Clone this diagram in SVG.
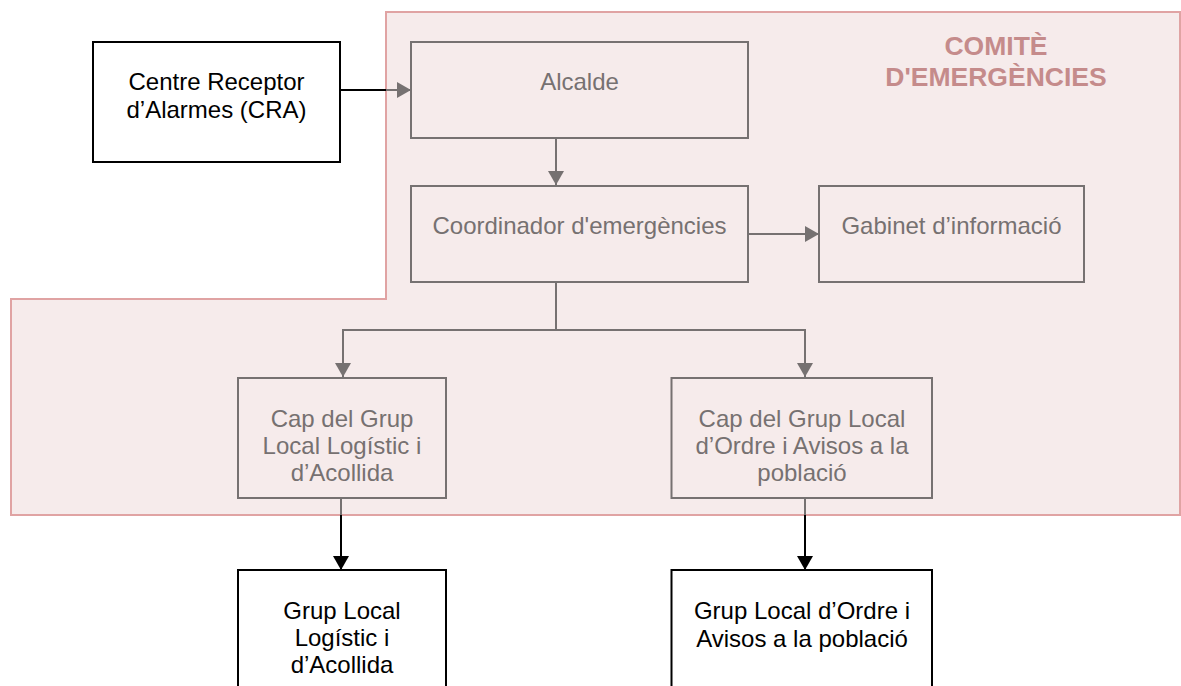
<svg xmlns="http://www.w3.org/2000/svg" width="1181" height="686" viewBox="0 0 1181 686">
<defs>
<style>
.gbox{fill:#f6ebeb;stroke:#767171;stroke-width:2}
.kbox{fill:#ffffff;stroke:#000000;stroke-width:2}
.gt{font-family:"Liberation Sans",Arial,sans-serif;font-size:24px;fill:#767171;text-anchor:middle}
.kt{font-family:"Liberation Sans",Arial,sans-serif;font-size:24px;fill:#000000;text-anchor:middle}
.gl{fill:none;stroke:#767171;stroke-width:2}
.kl{fill:none;stroke:#000000;stroke-width:2}
.title{font-family:"Liberation Sans",Arial,sans-serif;font-size:26.5px;font-weight:bold;fill:#c58b8b;text-anchor:middle}
</style>
<marker id="ag" viewBox="0 0 14 16" refX="14" refY="8" markerWidth="14" markerHeight="16" markerUnits="userSpaceOnUse" orient="auto"><path d="M0,0 L14,8 L0,16 Z" fill="#767171"/></marker>
<marker id="ak" viewBox="0 0 14 16" refX="14" refY="8" markerWidth="14" markerHeight="16" markerUnits="userSpaceOnUse" orient="auto"><path d="M0,0 L14,8 L0,16 Z" fill="#000000"/></marker>
</defs>
<rect width="1181" height="686" fill="#ffffff"/>
<g id="comite">
<path d="M11,299 L386,299 L386,12 L1180,12 L1180,515 L11,515 Z" fill="#f6ebeb" stroke="#e0a3a3" stroke-width="2"/>
<text class="title" x="996" y="55">COMITÈ</text>
<text class="title" x="996" y="86">D'EMERGÈNCIES</text>
</g>
<g id="connectors">
<line class="kl" x1="340" y1="90" x2="386" y2="90"/>
<line class="gl" x1="386" y1="90" x2="411" y2="90" marker-end="url(#ag)"/>
<line class="gl" x1="556" y1="138" x2="556" y2="185" marker-end="url(#ag)"/>
<line class="gl" x1="748" y1="234" x2="819" y2="234" marker-end="url(#ag)"/>
<polyline class="gl" points="556,282 556,330 343,330 343,377" marker-end="url(#ag)"/>
<polyline class="gl" points="556,330 805,330 805,377" marker-end="url(#ag)"/>
<line class="gl" x1="341" y1="498" x2="341" y2="515"/>
<line class="kl" x1="341" y1="515" x2="341" y2="570" marker-end="url(#ak)"/>
<line class="gl" x1="805" y1="498" x2="805" y2="515"/>
<line class="kl" x1="805" y1="515" x2="805" y2="570" marker-end="url(#ak)"/>
</g>
<g id="cra">
<rect class="kbox" x="93" y="42" width="247" height="120"/>
<text class="kt" x="216.5" y="90">Centre Receptor</text>
<text class="kt" x="216.5" y="118">d’Alarmes (CRA)</text>
</g>
<g id="alcalde">
<rect class="gbox" x="411" y="42" width="337" height="96"/>
<text class="gt" x="579.5" y="90">Alcalde</text>
</g>
<g id="coordinador">
<rect class="gbox" x="411" y="186" width="337" height="96"/>
<text class="gt" x="579.5" y="234">Coordinador d'emergències</text>
</g>
<g id="gabinet">
<rect class="gbox" x="819" y="186" width="265" height="96"/>
<text class="gt" x="951.5" y="234">Gabinet d’informació</text>
</g>
<g id="cap-logistic">
<rect class="gbox" x="238" y="378" width="208" height="120"/>
<text class="gt" x="342" y="426.5">Cap del Grup</text>
<text class="gt" x="342" y="454">Local Logístic i</text>
<text class="gt" x="342" y="481">d’Acollida</text>
</g>
<g id="cap-ordre">
<rect class="gbox" x="671.5" y="378" width="260.5" height="120"/>
<text class="gt" x="802" y="426.5">Cap del Grup Local</text>
<text class="gt" x="802" y="454">d’Ordre i Avisos a la</text>
<text class="gt" x="802" y="481">població</text>
</g>
<g id="grup-logistic">
<rect class="kbox" x="238" y="570" width="208" height="130"/>
<text class="kt" x="342" y="619">Grup Local</text>
<text class="kt" x="342" y="646">Logístic i</text>
<text class="kt" x="342" y="673">d’Acollida</text>
</g>
<g id="grup-ordre">
<rect class="kbox" x="671.5" y="570" width="260.5" height="130"/>
<text class="kt" x="802" y="619">Grup Local d’Ordre i</text>
<text class="kt" x="802" y="646.5">Avisos a la població</text>
</g>
</svg>
